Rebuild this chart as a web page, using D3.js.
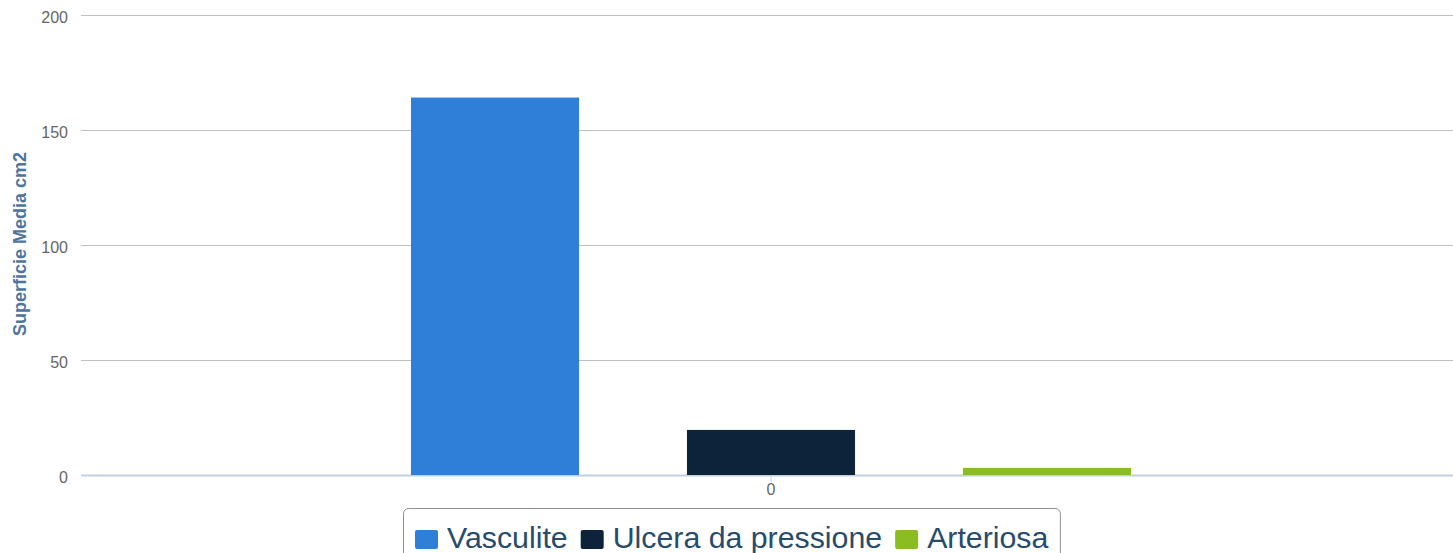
<!DOCTYPE html>
<html>
<head>
<meta charset="utf-8">
<script src="https://cdn.jsdelivr.net/npm/d3@7"></script>
<style>
  body { margin: 0; background: #fff; }
  svg { display: block; font-family: "Liberation Sans", Arial, Helvetica, sans-serif; }
</style>
</head>
<body>
<svg id="chart" width="1453" height="553"></svg>
<script>
// data
const categories = ["0"];
const seriesNames = ["Vasculite", "Ulcera da pressione", "Arteriosa"];
const seriesValues = [164.1, 19.6, 3.1];
const seriesColors = ["#2f7ed8", "#0d233a", "#8bbc21"];
const yTicks = [0, 50, 100, 150, 200];

const svg = d3.select("#chart");
const plot = { left: 81, right: 1460, top: 15, bottom: 475 };

const y = d3.scaleLinear().domain([0, 200]).range([plot.bottom, plot.top]);
const x0 = d3.scaleBand().domain(categories).range([plot.left + 1, plot.right]);
const x1 = d3.scaleBand().domain(seriesNames)
    .range([0, x0.bandwidth()])
    .paddingInner(0.391)
    .paddingOuter(1.192);

// gridlines + y labels
const yAxis = svg.append("g")
    .attr("transform", `translate(${plot.left},0)`)
    .call(d3.axisLeft(y).tickValues(yTicks).tickSize(-(plot.right - plot.left)).tickPadding(13));
yAxis.select(".domain").remove();
yAxis.selectAll(".tick line")
    .attr("stroke", d => d === 0 ? "#c0d0e0" : "#c0c0c0")
    .attr("stroke-width", d => d === 0 ? 2 : 1);
yAxis.selectAll(".tick text")
    .attr("fill", "#666")
    .style("font-size", "16px")
    .attr("dy", "0.75em")
    .attr("y", -5);

// y title
svg.append("text")
    .attr("transform", `translate(25.5,${(plot.top + plot.bottom) / 2 - 1}) rotate(-90)`)
    .attr("text-anchor", "middle")
    .attr("fill", "#4d759e")
    .style("font-size", "18px")
    .style("font-weight", "bold")
    .text("Superficie Media cm2");

// bars
const groups = svg.append("g")
    .selectAll("g")
    .data(categories)
    .enter()
    .append("g")
    .attr("transform", d => `translate(${x0(d)},0)`);

groups.selectAll("rect")
    .data(() => seriesNames.map((name, i) => ({ name: name, value: seriesValues[i], color: seriesColors[i] })))
    .enter()
    .append("rect")
    .attr("x", d => x1(d.name))
    .attr("width", x1.bandwidth())
    .attr("y", d => y(d.value))
    .attr("height", d => y(0) - y(d.value))
    .attr("fill", d => d.color);

// x axis
const xAxis = svg.append("g")
    .attr("transform", `translate(0,${plot.bottom})`)
    .call(d3.axisBottom(x0).tickSize(7).tickPadding(2));
xAxis.select(".domain").remove();
xAxis.selectAll(".tick line").attr("stroke", "#c0d0e0");
xAxis.selectAll(".tick text")
    .attr("fill", "#666")
    .style("font-size", "16px");

// legend
const legend = svg.append("g");
const legendBox = legend.append("rect")
    .attr("fill", "#fff")
    .attr("stroke", "#909090")
    .attr("stroke-width", 1)
    .attr("rx", 5);

let cursor = 415;
seriesNames.forEach((name, i) => {
    legend.append("rect")
        .attr("x", cursor)
        .attr("y", 530)
        .attr("width", 23)
        .attr("height", 19)
        .attr("rx", 2)
        .attr("fill", seriesColors[i]);
    const t = legend.append("text")
        .attr("x", cursor + 32)
        .attr("y", 548)
        .attr("fill", "#274b6d")
        .style("font-size", "30.3px")
        .text(name);
    cursor += 32 + t.node().getComputedTextLength() + 13;
});
legendBox
    .attr("x", 403.5)
    .attr("y", 508.5)
    .attr("width", cursor - 13 + 12 - 403.5)
    .attr("height", 60);
</script>
</body>
</html>
